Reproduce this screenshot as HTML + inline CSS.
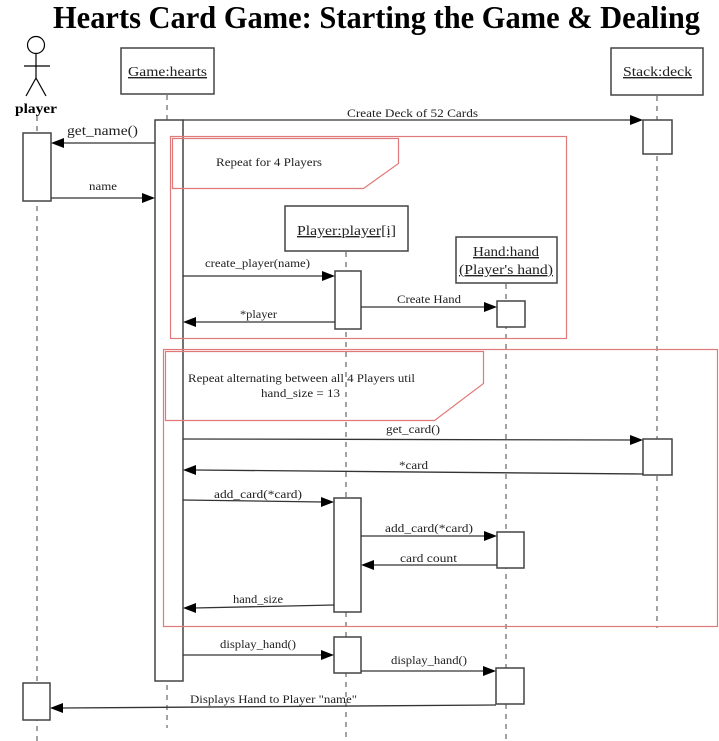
<!DOCTYPE html>
<html><head><meta charset="utf-8"><style>
html,body{margin:0;padding:0;background:#fff;}
svg{display:block;}
text{font-family:"Liberation Serif",serif;fill:#222;}
</style></head><body>
<svg width="719" height="741" viewBox="0 0 719 741" xmlns="http://www.w3.org/2000/svg">
<!-- Title -->
<text x="53" y="28" font-size="32" font-weight="bold" style="fill:#000" textLength="647" lengthAdjust="spacingAndGlyphs">Hearts Card Game: Starting the Game &amp; Dealing</text>

<!-- Actor -->
<g stroke="#000" stroke-width="1.2" fill="none">
<circle cx="36" cy="45" r="8.5"/>
<line x1="36" y1="54" x2="36" y2="78"/>
<line x1="24" y1="66" x2="50" y2="66"/>
<line x1="36" y1="78" x2="26" y2="96"/>
<line x1="36" y1="78" x2="46" y2="96"/>
</g>
<text x="15" y="113" font-size="14" font-weight="bold" style="fill:#000" textLength="42" lengthAdjust="spacingAndGlyphs">player</text>

<!-- Lifelines -->
<g stroke="#666" stroke-width="1.2" stroke-dasharray="5,5" fill="none">
<line x1="37" y1="116" x2="37" y2="741"/>
<line x1="167" y1="95" x2="167" y2="728"/>
<line x1="346" y1="252" x2="346" y2="741"/>
<line x1="506" y1="284" x2="506" y2="741"/>
<line x1="657" y1="96" x2="657" y2="628"/>
</g>

<!-- Object boxes -->
<g stroke="#444" stroke-width="1.5" fill="#fff">
<rect x="121" y="48" width="93" height="46"/>
<rect x="611" y="48" width="92" height="47"/>
<rect x="285" y="206" width="123" height="45"/>
<rect x="456" y="237" width="101" height="46"/>
</g>
<g font-size="14">
<text x="128" y="76" textLength="79" lengthAdjust="spacingAndGlyphs" text-decoration="underline">Game:hearts</text>
<text x="623" y="76" textLength="69" lengthAdjust="spacingAndGlyphs" text-decoration="underline">Stack:deck</text>
<text x="297" y="235" textLength="99" lengthAdjust="spacingAndGlyphs" text-decoration="underline">Player:player[i]</text>
<text x="473" y="256" textLength="66" lengthAdjust="spacingAndGlyphs" text-decoration="underline">Hand:hand</text>
<text x="459" y="274" textLength="94" lengthAdjust="spacingAndGlyphs" text-decoration="underline">(Player's hand)</text>
</g>

<!-- Activation boxes -->
<g stroke="#444" stroke-width="1.5" fill="#fff">
<rect x="155" y="120" width="28" height="561"/>
<rect x="23" y="133" width="28" height="68"/>
<rect x="643" y="120" width="29" height="34"/>
<rect x="335" y="271" width="26" height="58"/>
<rect x="497" y="301" width="28" height="26"/>
<rect x="643" y="439" width="29" height="36"/>
<rect x="334" y="498" width="27" height="114"/>
<rect x="497" y="532" width="27" height="36"/>
<rect x="334" y="637" width="27" height="36"/>
<rect x="496" y="668" width="28" height="36"/>
<rect x="23" y="683" width="27" height="37"/>
</g>

<!-- Red frames (drawn over activation) -->
<g stroke="#e07a7a" stroke-width="1.2" fill="none">
<rect x="170.5" y="136.5" width="396" height="202"/>
<polygon points="172.5,138.5 398.5,138.5 398.5,163.5 363.5,188.5 172.5,188.5"/>
<rect x="163.5" y="349.5" width="554" height="277"/>
<polygon points="165.5,351.5 483.5,351.5 483.5,383.5 434.5,420.5 165.5,420.5"/>
</g>
<text x="216" y="166" font-size="12" textLength="106" lengthAdjust="spacingAndGlyphs">Repeat for 4 Players</text>
<text x="188" y="382" font-size="12" textLength="227" lengthAdjust="spacingAndGlyphs">Repeat alternating between all 4 Players util</text>
<text x="261" y="397" font-size="12" textLength="79" lengthAdjust="spacingAndGlyphs">hand_size = 13</text>

<!-- Messages -->
<g stroke="#333" stroke-width="1.3" fill="none">
<line x1="183" y1="120" x2="632" y2="120"/>
<line x1="155" y1="143" x2="62" y2="143"/>
<line x1="51" y1="198" x2="144" y2="198"/>
<line x1="183" y1="276" x2="324" y2="276"/>
<line x1="335" y1="322" x2="194" y2="322"/>
<line x1="361" y1="307" x2="486" y2="307"/>
<line x1="183" y1="439" x2="632" y2="440"/>
<line x1="643" y1="474" x2="194" y2="470"/>
<line x1="183" y1="500" x2="323" y2="502"/>
<line x1="361" y1="536" x2="486" y2="536"/>
<line x1="497" y1="565" x2="372" y2="565"/>
<line x1="334" y1="605" x2="194" y2="608"/>
<line x1="183" y1="655" x2="323" y2="655"/>
<line x1="361" y1="671" x2="485" y2="671"/>
<line x1="496" y1="705" x2="62" y2="708"/>
</g>
<g fill="#000">
<polygon points="643,120 630,115 630,125"/>
<polygon points="51,143 64,138 64,148"/>
<polygon points="155,198 142,193 142,203"/>
<polygon points="335,276 322,271 322,281"/>
<polygon points="183,322 196,317 196,327"/>
<polygon points="497,307 484,302 484,312"/>
<polygon points="643,440 630,435 630,445"/>
<polygon points="183,470 196,465 196,475"/>
<polygon points="334,502 321,497 321,507"/>
<polygon points="497,536 484,531 484,541"/>
<polygon points="361,565 374,560 374,570"/>
<polygon points="183,608 196,603 196,613"/>
<polygon points="334,655 321,650 321,660"/>
<polygon points="496,671 483,666 483,676"/>
<polygon points="50,708 63,703 63,713"/>
</g>

<!-- Message labels -->
<g font-size="12">
<text x="347" y="117" textLength="131" lengthAdjust="spacingAndGlyphs">Create Deck of 52 Cards</text>
<text x="67" y="135" font-size="14" textLength="71" lengthAdjust="spacingAndGlyphs">get_name()</text>
<text x="89" y="190" textLength="28" lengthAdjust="spacingAndGlyphs">name</text>
<text x="205" y="267" textLength="105" lengthAdjust="spacingAndGlyphs">create_player(name)</text>
<text x="397" y="303" textLength="64" lengthAdjust="spacingAndGlyphs">Create Hand</text>
<text x="240" y="318" textLength="37" lengthAdjust="spacingAndGlyphs">*player</text>
<text x="386" y="433" textLength="54" lengthAdjust="spacingAndGlyphs">get_card()</text>
<text x="399" y="469" textLength="29" lengthAdjust="spacingAndGlyphs">*card</text>
<text x="214" y="498" textLength="88" lengthAdjust="spacingAndGlyphs">add_card(*card)</text>
<text x="385" y="532" textLength="88" lengthAdjust="spacingAndGlyphs">add_card(*card)</text>
<text x="400" y="562" textLength="57" lengthAdjust="spacingAndGlyphs">card count</text>
<text x="233" y="603" textLength="50" lengthAdjust="spacingAndGlyphs">hand_size</text>
<text x="220" y="648" textLength="76" lengthAdjust="spacingAndGlyphs">display_hand()</text>
<text x="391" y="664" textLength="76" lengthAdjust="spacingAndGlyphs">display_hand()</text>
<text x="190" y="703" textLength="167" lengthAdjust="spacingAndGlyphs">Displays Hand to Player "name"</text>
</g>
</svg>
</body></html>
